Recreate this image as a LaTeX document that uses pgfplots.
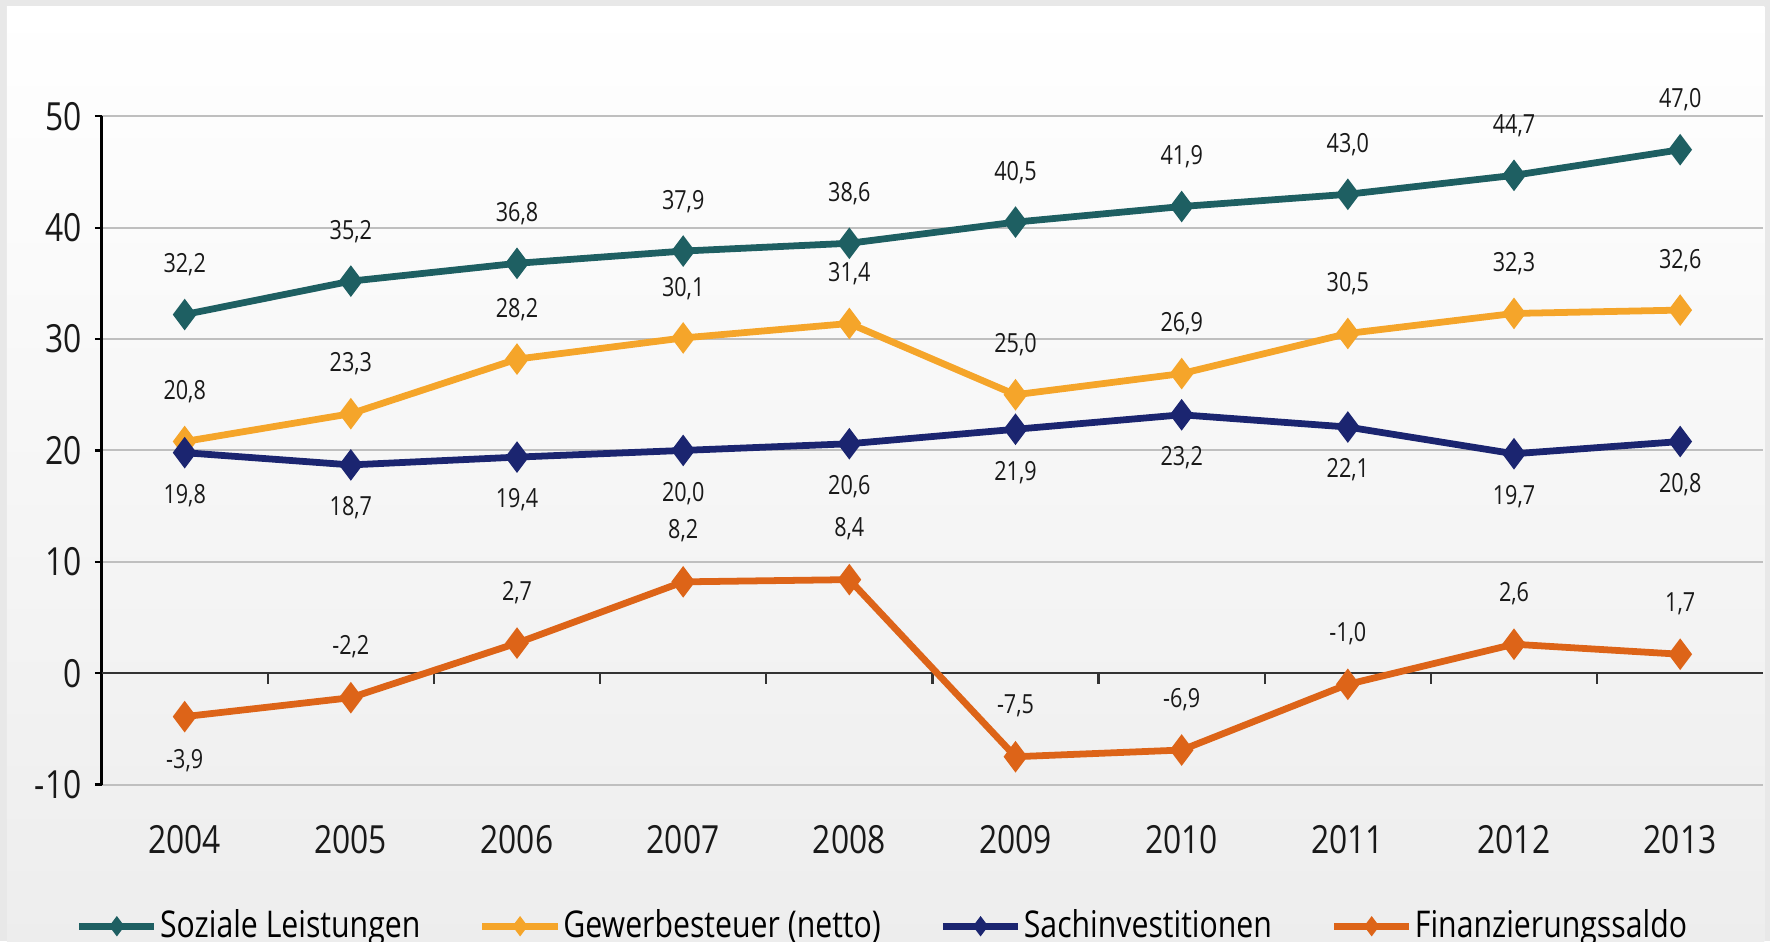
\documentclass[border=0pt]{standalone}
\usepackage{pgfplots}
\pgfplotsset{compat=1.18}
\usepackage{fontspec}
\setmainfont[FakeStretch=0.82]{Open Sans}

\definecolor{soz}{HTML}{1E5F62}
\definecolor{gew}{HTML}{F5A52A}
\definecolor{sach}{HTML}{1B2570}
\definecolor{fin}{HTML}{DD6418}

\pgfplotstableread{
x soz gew sach fin
2004 32.2 20.8 19.8 -3.9
2005 35.2 23.3 18.7 -2.2
2006 36.8 28.2 19.4 2.7
2007 37.9 30.1 20.0 8.2
2008 38.6 31.4 20.6 8.4
2009 40.5 25.0 21.9 -7.5
2010 41.9 26.9 23.2 -6.9
2011 43.0 30.5 22.1 -1.0
2012 44.7 32.3 19.7 2.6
2013 47.0 32.6 20.8 1.7
}\data

\pgfplotsset{
  lbl/.style={nodes near coords={\pgfmathprintnumber[fixed,fixed zerofill,precision=1,use comma,assume math mode=true]{\pgfplotspointmeta}},
    nodes near coords style={anchor=center, yshift=#1, text=black!90, font=\fontsize{7}{8}\selectfont}},
}

\begin{document}
\begin{tikzpicture}
  % outer frame and panel
  \fill[black!9] (-27pt,-41.7pt) rectangle (443.4pt,208.5pt);
  \shade[top color=white, bottom color=black!7] (-25.2pt,-41.7pt) rectangle (441.9pt,206.7pt);
  \begin{axis}[
      scale only axis,
      width=441.6pt,
      height=177.6pt,
      at={(0,0)}, anchor=south west,
      xmin=2003.5, xmax=2013.5,
      ymin=-10, ymax=50,
      ytick={-10,0,...,50},
      xtick={2004,...,2013},
      clip=false,
      axis y line*=left,
      axis x line*=bottom,
      x axis line style={draw=none},
      y axis line style={-, black, line width=0.6pt},
      xtick style={draw=none},
      ytick style={black, line width=0.6pt},
      tick align=outside,
      major tick length=1.8pt,
      ymajorgrids,
      grid style={black!25, line width=0.5pt},
      /pgf/number format/assume math mode=true,
      /pgf/number format/1000 sep={},
      tick label style={font=\fontsize{10.3}{12}\selectfont, black!90},
      xticklabel style={anchor=base, yshift=-16.4pt},
      every axis plot/.append style={line width=1.8pt, mark=diamond*, mark size=3.8pt,
        mark options={solid, line width=0.5pt}},
      legend columns=4,
      legend cell align=left,
      legend style={at={(0.470,-0.212)}, anchor=center, draw=none, fill=none,
        font=\fontsize{9.8}{12}\selectfont, inner sep=0pt,
        nodes={inner sep=0.6pt, text=black},
        /tikz/every odd column/.append style={column sep=0pt},
        /tikz/every even column/.append style={column sep=15pt}},
      legend image code/.code={\draw[mark repeat=2, mark phase=2, #1, mark size=2.3pt]
        plot coordinates {(0pt,0pt) (10pt,0pt) (20pt,0pt)};},
    ]
    % zero line with ticks between the years
    \draw[black!80, line width=0.6pt] (axis cs:2003.5,0) -- (axis cs:2013.5,0);
    \pgfplotsinvokeforeach{2004.5,2005.5,...,2012.5}{
      \draw[black!80, line width=0.6pt] (axis cs:#1,0) -- ++(0pt,-3pt);
    }

    \addplot[color=soz, lbl=13.2pt] table[x=x, y=soz] {\data};
    \addplot[color=gew, lbl=13.2pt] table[x=x, y=gew] {\data};
    \addplot[color=sach, lbl=-11.4pt] table[x=x, y=sach] {\data};
    \addplot[color=fin] table[x=x, y=fin] {\data};
    % labels of the Finanzierungssaldo
    \addplot[draw=none, mark=none, forget plot, lbl=13.5pt,
      restrict expr to domain={\coordindex}{1:9}] table[x=x, y=fin] {\data};
    \addplot[draw=none, mark=none, forget plot, lbl=-11.7pt,
      restrict expr to domain={\coordindex}{0:0}] table[x=x, y=fin] {\data};

    \legend{Soziale Leistungen, Gewerbesteuer (netto), Sachinvestitionen, Finanzierungssaldo}
  \end{axis}
  \pgfresetboundingbox
  \path[use as bounding box] (-27pt,-41.7pt) rectangle (443.4pt,208.5pt);
\end{tikzpicture}
\end{document}
